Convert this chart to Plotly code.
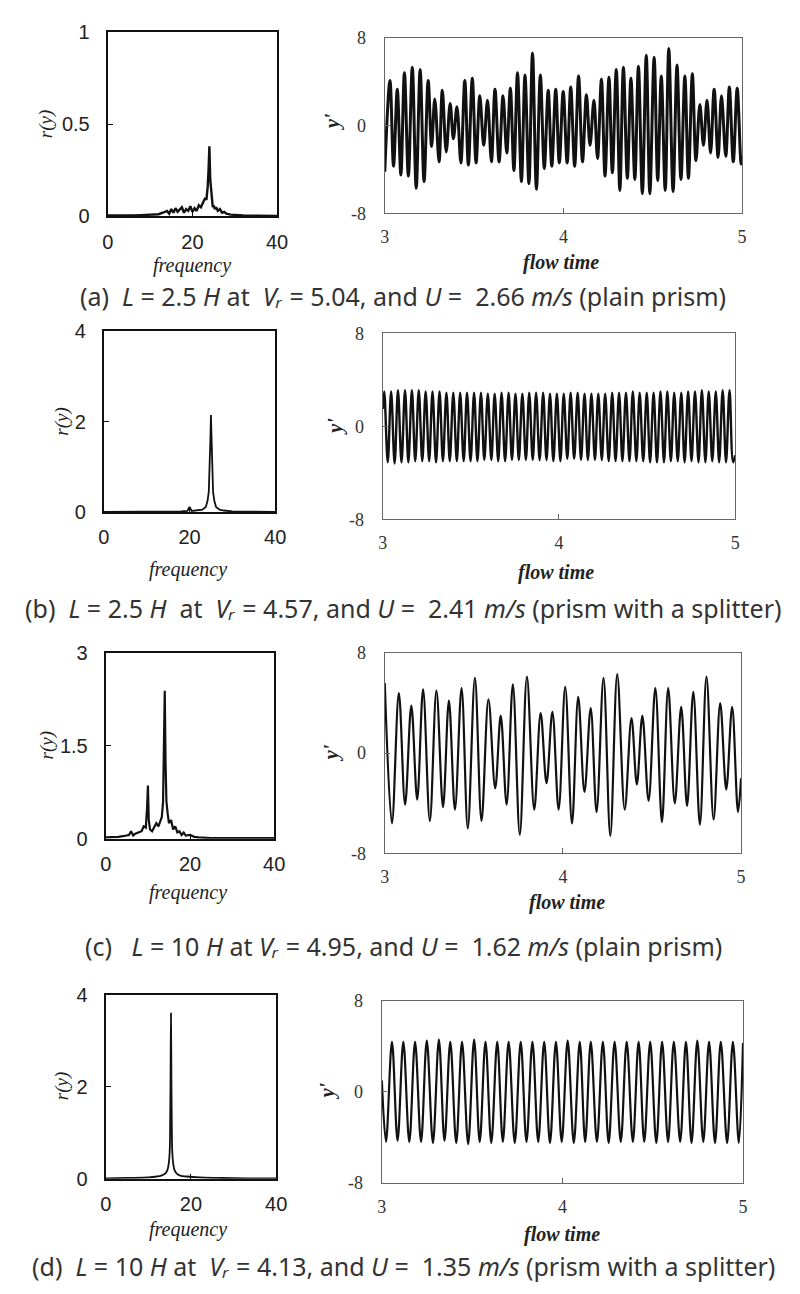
import plotly.graph_objects as go

W, H = 800, 1294

# ---------------- spectra (frequency vs r(y)) ----------------
freq_a = [0, 2, 4, 6, 8, 10, 11, 12, 13, 14, 14.5, 15, 15.5, 16, 16.5, 17, 17.5, 18, 18.5, 19, 19.5, 20, 20.5, 21,
          21.5, 22, 22.5, 23, 23.3, 23.6, 23.8, 24.0, 24.2, 24.4, 24.6, 24.8, 25.0, 25.3, 25.6, 26, 26.5, 27, 27.5, 28,
          29, 30, 32, 35, 38, 40]
spec_a = [0.005, 0.004, 0.006, 0.005, 0.007, 0.008, 0.01, 0.012, 0.02, 0.03, 0.015, 0.04, 0.02, 0.045, 0.025, 0.035,
          0.05, 0.02, 0.04, 0.03, 0.055, 0.025, 0.045, 0.03, 0.06, 0.05, 0.08, 0.1, 0.09, 0.16, 0.25, 0.38, 0.2, 0.15,
          0.08, 0.05, 0.06, 0.04, 0.05, 0.03, 0.04, 0.02, 0.025, 0.015, 0.01, 0.008, 0.005, 0.004, 0.003, 0.003]

freq_b = [0, 5, 10, 15, 18, 19.5, 20, 20.5, 22, 23, 23.8, 24.2, 24.5, 24.7, 24.9, 25.0, 25.1, 25.3, 25.5, 25.8, 26.2,
          27, 28, 30, 35, 40]
spec_b = [0.01, 0.01, 0.015, 0.02, 0.02, 0.03, 0.12, 0.03, 0.04, 0.06, 0.12, 0.25, 0.45, 0.9, 1.7, 2.15, 1.7, 0.9,
          0.45, 0.25, 0.12, 0.06, 0.04, 0.02, 0.01, 0.01]

freq_c = [0, 2, 3, 4, 5, 5.5, 6, 6.5, 7, 8, 8.5, 9, 9.5, 9.8, 10.0, 10.2, 10.5, 11, 11.5, 12, 12.5, 13, 13.3, 13.6,
          13.8, 14.0, 14.2, 14.4, 14.7, 15, 15.5, 16, 16.5, 17, 17.5, 18, 18.5, 19, 20, 21, 22, 25, 30, 35, 40]
spec_c = [0.02, 0.02, 0.03, 0.04, 0.05, 0.06, 0.12, 0.05, 0.08, 0.1, 0.12, 0.2, 0.18, 0.5, 0.86, 0.3, 0.15, 0.12, 0.2,
          0.25, 0.2, 0.3, 0.35, 0.6, 1.3, 2.39, 1.2, 0.6, 0.4, 0.25, 0.3, 0.15, 0.2, 0.1, 0.12, 0.06, 0.1, 0.05, 0.06,
          0.03, 0.02, 0.01, 0.01, 0.01, 0.01]

freq_d = [0, 5, 10, 12, 13, 14, 14.5, 14.8, 15.0, 15.1, 15.2, 15.3, 15.4, 15.5, 15.6, 15.8, 16.1, 16.6, 17.5, 19, 22,
          26, 30, 35, 40]
spec_d = [0.01, 0.02, 0.03, 0.05, 0.07, 0.12, 0.2, 0.35, 0.6, 1.1, 2.2, 3.6, 2.2, 1.1, 0.6, 0.35, 0.2, 0.12, 0.07,
          0.05, 0.03, 0.02, 0.015, 0.01, 0.01]

# ---------------- time histories (extremes of y') ----------------
time_a = [3.000, 3.029, 3.049, 3.070, 3.090, 3.110, 3.132, 3.154, 3.176, 3.198, 3.220, 3.243, 3.262, 3.280, 3.304,
          3.322, 3.344, 3.366, 3.384, 3.404, 3.426, 3.448, 3.468, 3.490, 3.511, 3.532, 3.554, 3.575, 3.597, 3.617,
          3.640, 3.662, 3.683, 3.703, 3.723, 3.743, 3.765, 3.785, 3.807, 3.827, 3.849, 3.871, 3.893, 3.915, 3.935,
          3.957, 3.977, 3.999, 4.021, 4.041, 4.063, 4.085, 4.107, 4.129, 4.149, 4.171, 4.191, 4.213, 4.233, 4.255,
          4.274, 4.296, 4.316, 4.336, 4.358, 4.378, 4.400, 4.420, 4.442, 4.464, 4.484, 4.508, 4.528, 4.548, 4.570,
          4.590, 4.614, 4.636, 4.658, 4.680, 4.700, 4.722, 4.742, 4.764, 4.784, 4.804, 4.824, 4.844, 4.866, 4.885,
          4.909, 4.929, 4.951, 4.973, 4.995, 5.000]
disp_a = [-4.2, 4.1, -3.7, 3.3, -4.5, 4.8, -4.6, 5.3, -5.7, 5.1, -5.1, 4.1, -1.9, 2.4, -3.3, 3.2, -2.4, 2.0, -1.2, 1.7,
          -3.4, 4.1, -3.6, 4.3, -3.4, 2.7, -1.8, 2.3, -3.3, 3.3, -3.3, 2.7, -2.5, 3.4, -4.1, 4.8, -5.1, 4.6, -5.3, 6.6,
          -5.8, 4.6, -3.9, 3.2, -3.7, 3.3, -3.4, 3.1, -3.4, 3.5, -3.7, 4.5, -3.3, 2.8, -1.8, 2.3, -3.0, 4.2, -4.6, 4.4,
          -4.3, 5.1, -5.9, 5.3, -4.8, 4.3, -4.9, 5.4, -6.2, 6.4, -6.2, 6.2, -5.0, 4.5, -5.9, 7.0, -6.0, 5.5, -4.9, 4.5,
          -4.8, 4.7, -3.2, 1.9, -1.8, 2.3, -2.5, 3.3, -2.9, 2.7, -2.8, 3.5, -3.3, 3.4, -3.5, -3.0]

peak_time_b = [3.008, 3.047, 3.086, 3.126, 3.165, 3.204, 3.243, 3.282, 3.322, 3.361, 3.400, 3.439, 3.478, 3.518,
               3.557, 3.596, 3.635, 3.674, 3.714, 3.753, 3.792, 3.831, 3.870, 3.910, 3.949, 3.988, 4.027, 4.066,
               4.106, 4.145, 4.184, 4.223, 4.262, 4.302, 4.341, 4.380, 4.419, 4.458, 4.498, 4.537, 4.576, 4.615,
               4.654, 4.694, 4.733, 4.772, 4.811, 4.850, 4.890, 4.929, 4.968]
peak_b = [3.0, 3.0, 3.1, 3.1, 3.1, 3.1, 3.0, 3.0, 3.0, 2.9, 2.9, 2.9, 2.9, 2.9, 2.9, 2.8, 2.8, 2.9, 2.9, 2.8, 2.8, 2.9,
          2.9, 2.9, 2.8, 2.8, 2.8, 2.9, 2.9, 2.8, 2.8, 2.8, 2.8, 2.9, 2.9, 2.9, 3.0, 2.9, 2.9, 2.9, 3.0, 3.0, 2.9, 2.9,
          3.0, 3.0, 3.1, 3.0, 3.0, 3.1, 3.1]
trough_time_b = [3.028, 3.067, 3.106, 3.145, 3.184, 3.224, 3.263, 3.302, 3.341, 3.380, 3.420, 3.459, 3.498, 3.537,
                 3.576, 3.616, 3.655, 3.694, 3.733, 3.772, 3.812, 3.851, 3.890, 3.929, 3.968, 4.008, 4.047, 4.086,
                 4.125, 4.164, 4.204, 4.243, 4.282, 4.321, 4.360, 4.400, 4.439, 4.478, 4.517, 4.556, 4.596, 4.635,
                 4.674, 4.713, 4.752, 4.792, 4.831, 4.870, 4.909, 4.948, 4.988]
trough_b = [-3.1, -3.2, -3.1, -3.1, -3.0, -3.0, -3.0, -3.1, -3.0, -3.0, -3.0, -3.0, -3.0, -3.0, -2.9, -2.9, -3.0, -3.0,
            -2.9, -2.9, -2.9, -2.9, -2.9, -2.9, -3.0, -3.0, -2.8, -2.8, -2.9, -2.9, -2.9, -2.9, -3.0, -3.0, -3.0, -3.0,
            -3.0, -3.0, -3.1, -3.1, -3.1, -3.0, -3.0, -3.1, -3.0, -3.1, -3.1, -3.0, -3.1, -3.1, -3.1]
start_end_time_b = [3.000, 5.000]
start_end_b = [1.5, -2.5]

time_c = [3.000, 3.040, 3.079, 3.114, 3.149, 3.182, 3.215, 3.253, 3.290, 3.327, 3.360, 3.394, 3.431, 3.466, 3.506,
          3.543, 3.582, 3.620, 3.651, 3.684, 3.719, 3.758, 3.798, 3.839, 3.875, 3.908, 3.941, 3.976, 4.013, 4.051,
          4.086, 4.121, 4.156, 4.189, 4.228, 4.266, 4.305, 4.347, 4.385, 4.415, 4.446, 4.481, 4.519, 4.556, 4.591,
          4.628, 4.664, 4.697, 4.732, 4.769, 4.806, 4.846, 4.883, 4.917, 4.950, 4.983, 5.000]
disp_c = [5.6, -5.6, 4.8, -4.1, 3.8, -3.7, 5.1, -5.4, 5.0, -4.3, 4.2, -4.5, 5.2, -6.0, 6.0, -5.4, 4.3, -2.8, 3.0, -4.1,
          5.5, -6.5, 6.1, -4.5, 3.2, -2.4, 3.3, -4.5, 5.3, -5.6, 4.5, -3.1, 3.6, -4.7, 6.0, -6.6, 6.3, -4.5, 2.8, -2.5,
          3.0, -3.8, 5.2, -5.5, 5.2, -4.0, 3.7, -4.2, 4.9, -5.7, 6.1, -5.3, 4.0, -2.9, 3.7, -4.7, -2.0]

peak_time_d = [3.056, 3.119, 3.184, 3.249, 3.316, 3.379, 3.444, 3.511, 3.574, 3.639, 3.702, 3.769, 3.834, 3.899,
               3.964, 4.029, 4.096, 4.157, 4.224, 4.289, 4.356, 4.422, 4.486, 4.552, 4.617, 4.684, 4.747, 4.812,
               4.877, 4.944]
peak_d = [4.4, 4.4, 4.4, 4.5, 4.6, 4.4, 4.4, 4.6, 4.4, 4.4, 4.4, 4.4, 4.4, 4.4, 4.4, 4.5, 4.4, 4.4, 4.4, 4.4, 4.4, 4.4,
          4.4, 4.4, 4.4, 4.4, 4.5, 4.4, 4.4, 4.4]
trough_time_d = [3.023, 3.087, 3.152, 3.217, 3.283, 3.347, 3.412, 3.478, 3.542, 3.606, 3.670, 3.736, 3.801, 3.866,
                 3.931, 3.996, 4.063, 4.126, 4.191, 4.256, 4.323, 4.390, 4.453, 4.520, 4.585, 4.652, 4.715, 4.780,
                 4.845, 4.912, 4.977]
trough_d = [-4.4, -4.3, -4.4, -4.4, -4.5, -4.3, -4.5, -4.6, -4.4, -4.5, -4.4, -4.5, -4.4, -4.4, -4.5, -4.4, -4.5, -4.4,
            -4.4, -4.5, -4.4, -4.4, -4.4, -4.5, -4.4, -4.4, -4.5, -4.4, -4.5, -4.5, -4.5]
start_end_time_d = [3.000, 5.000]
start_end_d = [1.0, 4.3]

# ---------------- tick labels / captions ----------------
freq_ticks = [0, 20, 40]
time_ticks = [3, 4, 5]
disp_ticks = [-8, 0, 8]
spec_ticks = {"a": [0, 0.5, 1], "b": [0, 2, 4], "c": [0, 1.5, 3], "d": [0, 2, 4]}
spec_tick_text = {"a": ["0", "0.5", "1"], "b": ["0", "2", "4"], "c": ["0", "1.5", "3"], "d": ["0", "2", "4"]}

NB = "\u00a0"
VR = "<i>V\u1d63</i>"
captions = [
    f"(a){NB} <i>L</i> = 2.5 <i>H</i> at{NB} {VR} = 5.04, and <i>U</i> ={NB} 2.66 <i>m/s</i> (plain prism)",
    f"(b){NB} <i>L</i> = 2.5 <i>H</i>{NB} at{NB} {VR} = 4.57, and <i>U</i> ={NB} 2.41 <i>m/s</i> (prism with a splitter)",
    f"(c){NB}{NB} <i>L</i> = 10 <i>H</i> at {VR} = 4.95, and <i>U</i> ={NB} 1.62 <i>m/s</i> (plain prism)",
    f"(d){NB} <i>L</i> = 10 <i>H</i> at{NB} {VR} = 4.13, and <i>U</i> ={NB} 1.35 <i>m/s</i> (prism with a splitter)",
]


def merge(t1, v1, t2, v2):
    pts = sorted(zip(list(t1) + list(t2), list(v1) + list(v2)))
    return [p[0] for p in pts], [p[1] for p in pts]


tb, vb = merge(peak_time_b + start_end_time_b, peak_b + start_end_b, trough_time_b, trough_b)
td, vd = merge(peak_time_d + start_end_time_d, peak_d + start_end_d, trough_time_d, trough_d)

# ---------------- layout geometry (pixels) ----------------
boxes = {
    "a_l": (104, 277, 21, 209), "a_r": (387, 752, 27, 206),
    "b_l": (100, 275, 326, 510), "b_r": (385, 745, 328, 517),
    "c_l": (102, 274, 653, 842), "c_r": (387, 751, 653, 857),
    "d_l": (102, 276, 1001, 1188), "d_r": (384, 753, 1007, 1192),
}
order = ["a_l", "a_r", "b_l", "b_r", "c_l", "c_r", "d_l", "d_r"]


def px(x):
    return x / W


def py(y):
    return 1 - y / H


fig = go.Figure()

series = {
    "a_l": (freq_a, spec_a, "linear", 2.4),
    "a_r": (time_a, disp_a, "spline", 3.0),
    "b_l": (freq_b, spec_b, "linear", 1.8),
    "b_r": (tb, vb, "spline", 2.4),
    "c_l": (freq_c, spec_c, "linear", 2.2),
    "c_r": (time_c, disp_c, "spline", 2.2),
    "d_l": (freq_d, spec_d, "spline", 1.8),
    "d_r": (td, vd, "spline", 2.2),
}

layout = dict(
    width=W, height=H, margin=dict(l=0, r=0, t=0, b=0),
    paper_bgcolor="white", plot_bgcolor="white", showlegend=False,
)

annotations = []
SERIF = "Liberation Serif"
SANS = "Liberation Sans"

for i, key in enumerate(order, start=1):
    x0, x1, y0, y1 = boxes[key]
    xs, ys, shape, lw = series[key]
    xa = "x" if i == 1 else f"x{i}"
    ya = "y" if i == 1 else f"y{i}"
    fig.add_trace(go.Scatter(x=xs, y=ys, mode="lines", xaxis=xa, yaxis=ya,
                             line=dict(color="#111111", width=lw, shape=shape, smoothing=1.0),
                             hoverinfo="skip"))
    left = key.endswith("_l")
    panel = key[0]
    xkey = "xaxis" if i == 1 else f"xaxis{i}"
    ykey = "yaxis" if i == 1 else f"yaxis{i}"
    if left:
        frame_color, frame_w = "#111111", 2.2
        tfont = dict(family=SANS, size=20, color="#222222")
        xr, xt, xtt = [0, 40], freq_ticks, [str(v) for v in freq_ticks]
        yr, yt, ytt = [spec_ticks[panel][0], spec_ticks[panel][-1]], spec_ticks[panel], spec_tick_text[panel]
        xstand, ystand = 6, 12
    else:
        frame_color, frame_w = "#666666", 1.4
        tfont = dict(family=SERIF, size=18, color="#333333")
        xr, xt, xtt = [3, 5], time_ticks, [str(v) for v in time_ticks]
        yr, yt, ytt = [-8, 8], disp_ticks, [str(v) for v in disp_ticks]
        xstand, ystand = 7, 14
    common = dict(showgrid=False, zeroline=False, showline=True, mirror=True,
                  linecolor=frame_color, linewidth=frame_w, ticks="inside", ticklen=5,
                  tickcolor=frame_color, tickwidth=1.2, tickfont=tfont, fixedrange=True)
    layout[xkey] = dict(domain=[px(x0), px(x1)], anchor=ya, range=xr, tickvals=xt, ticktext=xtt,
                        ticklabelstandoff=xstand, **common)
    layout[ykey] = dict(domain=[py(y1), py(y0)], anchor=xa, range=yr, tickvals=yt, ticktext=ytt,
                        ticklabelstandoff=ystand, **common)


def ann(text, x, y, size, family, angle=0, color="#222222"):
    annotations.append(dict(text=text, x=px(x), y=py(y), xref="paper", yref="paper", showarrow=False,
                            textangle=angle, font=dict(family=family, size=size, color=color),
                            xanchor="center", yanchor="middle"))


freq_title_pos = [(190, 259), (186, 568), (186, 897), (186, 1240)]
flow_title_pos = [(567, 256), (562, 571), (573, 907), (568, 1245)]
ry_pos = [(41, 115), (57, 418), (42, 747), (58, 1094)]
yp_pos = [(333, 112), (337, 422), (332, 754), (328, 1099)]
cap_y = [290, 607, 951, 1277]

for j in range(4):
    ann("<i>frequency</i>", *freq_title_pos[j], 20, SERIF)
    ann("<b><i>flow time</i></b>", *flow_title_pos[j], 20, SERIF)
    ann("<i>r(y)</i>", *ry_pos[j], 19, SERIF, angle=-90)
    ann("<b><i>y'</i></b>", *yp_pos[j], 20, SERIF, angle=-90)
    ann(captions[j], 406, cap_y[j], 25, "Noto Sans", color="#333333")

layout["annotations"] = annotations
fig.update_layout(**layout)
fig.write_html("out.html")
